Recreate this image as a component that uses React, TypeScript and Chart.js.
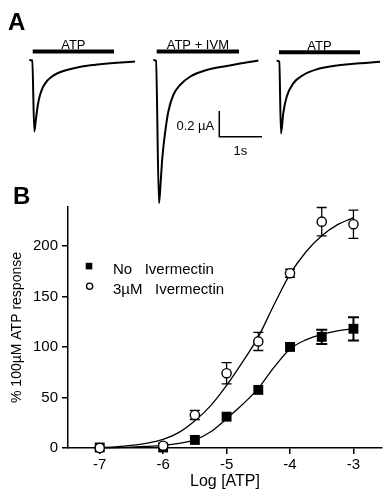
import React, { useEffect, useRef } from 'react';
import { Chart, registerables } from 'chart.js';

Chart.register(...registerables);

const FONT = '"Liberation Sans", Arial, Helvetica, sans-serif';

// ---------- Panel A: current traces ----------
const traceLabels = ['ATP', 'ATP + IVM', 'ATP'];
const traceStarts = [0.698, 3.65, 6.588]; // s
const traceBaselines = [0, 0, -0.006]; // µA

const trace1Time = [0, 0.071, 0.119, 0.16, 0.207, 0.255, 0.326, 0.421, 0.54, 0.66, 0.85, 1.088, 1.326, 1.683, 2.088, 2.517];
const trace1Current = [0, -0.004, -0.572, -0.464, -0.352, -0.28, -0.216, -0.168, -0.132, -0.108, -0.084, -0.064, -0.048, -0.034, -0.022, -0.012];

const trace2Time = [0, 0.064, 0.136, 0.176, 0.214, 0.279, 0.357, 0.476, 0.636, 0.874, 1.271, 1.748, 2.1, 2.5];
const trace2Current = [0, -0.008, -1.146, -0.974, -0.786, -0.586, -0.414, -0.28, -0.2, -0.134, -0.08, -0.048, -0.026, -0.004];

const trace3Time = [0, 0.062, 0.102, 0.157, 0.238, 0.395, 0.633, 0.952, 1.348, 1.824, 2.46];
const trace3Current = [0, -0.008, -0.581, -0.418, -0.288, -0.181, -0.114, -0.069, -0.042, -0.024, -0.008];

const applicationStart = [0.081, 0.081, 0.055]; // s, relative to trace start
const applicationEnd = [2.017, 2.04, 1.983];
const applicationLevel = 0.068; // µA, where the bar sits

const scaleBarTime = 5.221; // s
const scaleBarCurrent = -0.614; // µA
const scaleCurrent = 0.2; // µA
const scaleTime = 1; // s

// ---------- Panel B: concentration-response ----------
const logAtp = [-7, -6, -5.5, -5, -4.5, -4, -3.5, -3];
const noIvmMean = [0.5, 0.5, 8, 31, 57.5, 100, 110, 118];
const noIvmSem = [0, 0, 0, 0, 0, 0, 7, 11.5];
const ivmMean = [0, 2.3, 32.7, 74, 105.5, 173, 224, 221.5];
const ivmSem = [0, 0, 4.5, 10.5, 9, 4, 14, 14];

const fitLogAtp = [-7, -6.75, -6.5, -6.25, -6, -5.75, -5.5, -5.25, -5, -4.75, -4.5, -4.25, -4, -3.75, -3.5, -3.25, -3];
const noIvmFit = [0.2, 0.4, 0.8, 1.5, 2.6, 4.6, 8, 16, 29, 43, 59, 80, 98, 107, 112.5, 116, 118];
const ivmFit = [0.5, 1.2, 2.5, 4.8, 8.5, 15.5, 27, 42, 62, 85, 110, 142, 172, 194, 210, 221, 228];

const xTicks = [-7, -6, -5, -4, -3];
const yTicks = [0, 50, 100, 150, 200];

const legendLabels = ['No   Ivermectin', '3\u00b5M   Ivermectin'];

function toTrace(times: number[], currents: number[], i: number) {
  return times.map((t, k) => ({ x: traceStarts[i] + t, y: traceBaselines[i] + currents[k] }));
}

const panelAText = {
  id: 'panelAText',
  afterDatasetsDraw(chart: any) {
    const { ctx, scales } = chart;
    const x = scales.x;
    const y = scales.y;
    ctx.save();
    ctx.fillStyle = '#000';
    ctx.font = `bold 24px ${FONT}`;
    ctx.textAlign = 'left';
    ctx.textBaseline = 'alphabetic';
    ctx.fillText('A', 8, 30);

    ctx.font = `13px ${FONT}`;
    ctx.textAlign = 'center';
    traceLabels.forEach((lab, i) => {
      const cx = x.getPixelForValue(traceStarts[i] + (applicationStart[i] + applicationEnd[i]) / 2);
      const yy = y.getPixelForValue(traceBaselines[i] + applicationLevel) - 2.2;
      ctx.fillText(lab, cx, yy);
    });

    const sx = x.getPixelForValue(scaleBarTime);
    const sTop = y.getPixelForValue(scaleBarCurrent + scaleCurrent);
    const sBot = y.getPixelForValue(scaleBarCurrent);
    ctx.textAlign = 'right';
    ctx.textBaseline = 'middle';
    ctx.fillText(`${scaleCurrent} \u00b5A`, sx - 5, (sTop + sBot) / 2 + 2.5);
    ctx.textAlign = 'center';
    ctx.textBaseline = 'top';
    ctx.fillText(`${scaleTime}s`, x.getPixelForValue(scaleBarTime + scaleTime / 2), sBot + 8);
    ctx.restore();
  },
};

const errorBars = {
  id: 'errorBars',
  beforeDatasetsDraw(chart: any) {
    const { ctx, scales } = chart;
    const x = scales.x;
    const y = scales.y;
    ctx.save();
    ctx.strokeStyle = '#000';
    chart.data.datasets.forEach((ds: any) => {
      if (!ds.errors) return;
      ctx.lineWidth = ds.errorWidth;
      ds.data.forEach((p: any, k: number) => {
        const e = ds.errors[k];
        if (!e) return;
        const px = x.getPixelForValue(p.x);
        const yt = y.getPixelForValue(p.y + e);
        const yb = y.getPixelForValue(p.y - e);
        const cap = ds.capHalf;
        ctx.beginPath();
        ctx.moveTo(px, yt);
        ctx.lineTo(px, yb);
        ctx.moveTo(px - cap, yt);
        ctx.lineTo(px + cap, yt);
        ctx.moveTo(px - cap, yb);
        ctx.lineTo(px + cap, yb);
        ctx.stroke();
      });
    });
    ctx.restore();
  },
};

const panelBText = {
  id: 'panelBText',
  afterDraw(chart: any) {
    const { ctx } = chart;
    ctx.save();
    ctx.fillStyle = '#000';
    ctx.strokeStyle = '#000';
    ctx.font = `bold 24px ${FONT}`;
    ctx.textAlign = 'left';
    ctx.textBaseline = 'alphabetic';
    ctx.fillText('B', 13, 204);

    // legend
    ctx.fillRect(85.7, 262.8, 6.6, 6.6);
    ctx.lineWidth = 1.3;
    ctx.beginPath();
    ctx.arc(89.6, 286.2, 3.1, 0, Math.PI * 2);
    ctx.stroke();
    ctx.font = `15px ${FONT}`;
    ctx.textBaseline = 'alphabetic';
    ctx.fillText(legendLabels[0], 113, 273.5);
    ctx.fillText(legendLabels[1], 113, 293.5);
    ctx.restore();
  },
};

export default function App() {
  const refA = useRef<HTMLCanvasElement>(null);
  const refB = useRef<HTMLCanvasElement>(null);

  useEffect(() => {
    const traces = [
      toTrace(trace1Time, trace1Current, 0),
      toTrace(trace2Time, trace2Current, 1),
      toTrace(trace3Time, trace3Current, 2),
    ];
    const bars = traceStarts.map((s, i) => [
      { x: s + applicationStart[i], y: traceBaselines[i] + applicationLevel },
      { x: s + applicationEnd[i], y: traceBaselines[i] + applicationLevel },
    ]);
    const scaleBar = [
      { x: scaleBarTime, y: scaleBarCurrent + scaleCurrent },
      { x: scaleBarTime, y: scaleBarCurrent },
      { x: scaleBarTime + scaleTime, y: scaleBarCurrent },
    ];

    const chartA = new Chart(refA.current as HTMLCanvasElement, {
      type: 'scatter',
      data: {
        datasets: [
          ...traces.map((d) => ({
            data: d,
            showLine: true,
            borderColor: '#000',
            borderWidth: 2,
            pointRadius: 0,
            cubicInterpolationMode: 'monotone',
            clip: false,
          })),
          ...bars.map((d) => ({
            data: d,
            showLine: true,
            borderColor: '#000',
            borderWidth: 4,
            borderCapStyle: 'butt',
            pointRadius: 0,
            clip: false,
          })),
          {
            data: scaleBar,
            showLine: true,
            borderColor: '#000',
            borderWidth: 1.5,
            pointRadius: 0,
            tension: 0,
            borderCapStyle: 'square',
            clip: false,
          },
        ] as any,
      },
      options: {
        responsive: false,
        animation: false,
        devicePixelRatio: 1,
        events: [],
        layout: { padding: 0 },
        plugins: { legend: { display: false }, tooltip: { enabled: false } },
        scales: {
          x: { type: 'linear', display: false, min: 0, max: 390 / 42 },
          y: { type: 'linear', display: false, min: -1.2, max: 0.48 },
        },
      },
      plugins: [panelAText],
    } as any);

    const chartB = new Chart(refB.current as HTMLCanvasElement, {
      type: 'scatter',
      data: {
        datasets: [
          {
            label: '3\u00b5M Ivermectin',
            data: logAtp.map((v, k) => ({ x: v, y: ivmMean[k] })),
            pointStyle: 'circle',
            pointRadius: 4.6,
            pointBorderWidth: 1.4,
            backgroundColor: '#fff',
            borderColor: '#000',
            errors: ivmSem,
            errorWidth: 1.3,
            capHalf: 5,
            order: 0,
            clip: false,
          },
          {
            label: 'No Ivermectin',
            data: logAtp.map((v, k) => ({ x: v, y: noIvmMean[k] })),
            pointStyle: 'rect',
            pointRadius: 7,
            pointBorderWidth: 0,
            backgroundColor: '#000',
            borderColor: '#000',
            errors: noIvmSem,
            errorWidth: 2,
            capHalf: 5.5,
            order: 1,
            clip: false,
          },
          {
            type: 'line',
            data: fitLogAtp.map((v, k) => ({ x: v, y: ivmFit[k] })),
            borderColor: '#000',
            borderWidth: 1.3,
            pointRadius: 0,
            fill: false,
            cubicInterpolationMode: 'monotone',
            order: 2,
            clip: false,
          },
          {
            type: 'line',
            data: fitLogAtp.map((v, k) => ({ x: v, y: noIvmFit[k] })),
            borderColor: '#000',
            borderWidth: 1.3,
            pointRadius: 0,
            fill: false,
            cubicInterpolationMode: 'monotone',
            order: 3,
            clip: false,
          },
        ] as any,
      },
      options: {
        responsive: false,
        animation: false,
        devicePixelRatio: 1,
        events: [],
        layout: { padding: { top: 207, right: 8, left: 0, bottom: 0 } },
        plugins: { legend: { display: false }, tooltip: { enabled: false } },
        scales: {
          x: {
            type: 'linear',
            min: -7.5,
            max: -2.55,
            afterBuildTicks: (s: any) => {
              s.ticks = xTicks.map((v) => ({ value: v }));
            },
            afterFit: (s: any) => {
              s.height = 52;
            },
            grid: { display: true, drawOnChartArea: false, drawTicks: true, tickLength: 6, color: '#000', lineWidth: 1.5 },
            border: { display: true, color: '#000', width: 1.5 },
            ticks: { color: '#000', font: { family: FONT, size: 15 }, padding: 2, maxRotation: 0, autoSkip: false },
            title: {
              display: true,
              text: 'Log [ATP]',
              color: '#000',
              font: { family: FONT, size: 16, lineHeight: 1 },
              padding: { top: 0, bottom: 10 },
            },
          },
          y: {
            type: 'linear',
            min: 0,
            max: 238.5,
            afterBuildTicks: (s: any) => {
              s.ticks = yTicks.map((v) => ({ value: v }));
            },
            afterFit: (s: any) => {
              s.width = 68;
            },
            grid: { display: true, drawOnChartArea: false, drawTicks: true, tickLength: 6, color: '#000', lineWidth: 1.5 },
            border: { display: true, color: '#000', width: 1.5 },
            ticks: { color: '#000', font: { family: FONT, size: 15 }, padding: 4 },
            title: {
              display: true,
              text: '% 100\u00b5M ATP response',
              color: '#000',
              font: { family: FONT, size: 14, lineHeight: 1 },
              padding: { top: 10, bottom: 0 },
            },
          },
        },
      },
      plugins: [errorBars, panelBText],
    } as any);

    return () => {
      chartA.destroy();
      chartB.destroy();
    };
  }, []);

  return (
    <div style={{ position: 'fixed', left: 0, top: 0, width: 390, height: 500, background: '#fff' }}>
      <canvas
        ref={refB}
        width={390}
        height={500}
        style={{ position: 'absolute', left: 0, top: 0, width: 390, height: 500 }}
      />
      <canvas
        ref={refA}
        width={390}
        height={210}
        style={{ position: 'absolute', left: 0, top: 0, width: 390, height: 210 }}
      />
    </div>
  );
}
